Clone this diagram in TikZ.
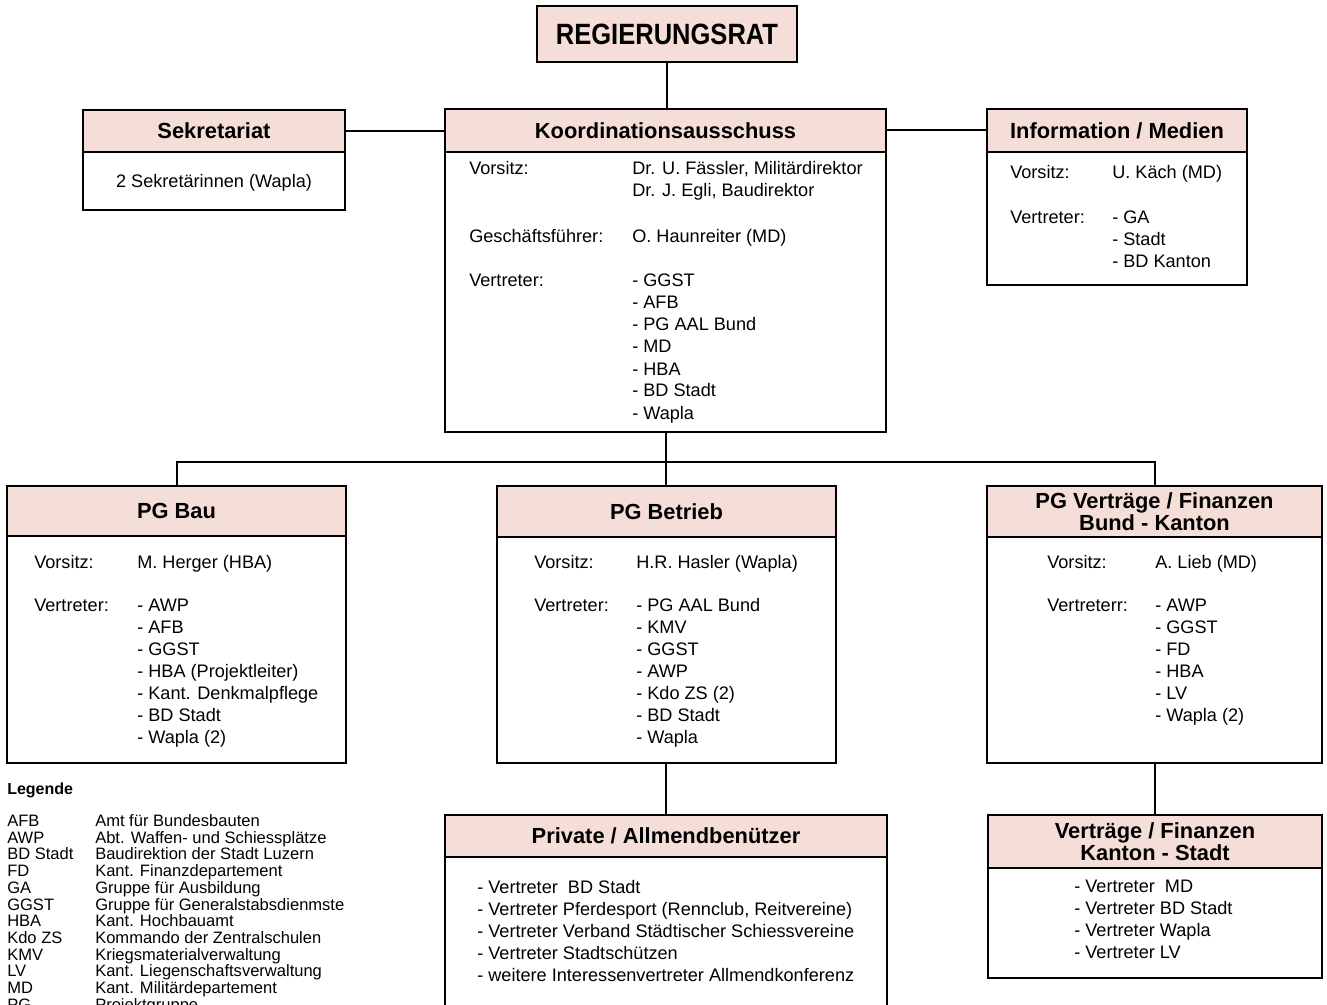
\documentclass[tikz,border=0pt]{standalone}
\usepackage{fontspec}
\setmainfont{Liberation Sans}
\usetikzlibrary{fit}
\definecolor{hdr}{RGB}{245,222,216}
\newcommand\obox[6]{%
  \node[hbox, fit={(#2,#3) (#4,#6)}] (#1-h) {};
  \node[box, fit={(#2,#3) (#4,#5)}] (#1) {};}
\newcommand\txtlines[4]{%
  \foreach [count=\i] \t in {#4} {\node[txt] (#1\i) at (#2,{#3+22*(\i-1)}) {\t};}}
\begin{document}
\begin{tikzpicture}[x=0.75pt,y=-0.75pt,
  box/.style={draw, line width=1.6pt, inner sep=0pt},
  hbox/.style={draw, fill=hdr, line width=1.6pt, inner sep=0pt},
  conn/.style={line width=1.5pt},
  txt/.style={inner sep=0pt, anchor=base west, font=\fontsize{13.6}{16}\selectfont},
  ctxt/.style={inner sep=0pt, font=\fontsize{13.6}{16}\selectfont},
  htxt/.style={inner sep=0pt, align=center, font=\bfseries\fontsize{16.4}{16.5}\selectfont},
  leg/.style={inner sep=0pt, anchor=base west, font=\fontsize{12.4}{12.5}\selectfont}]
\path[use as bounding box] (0,0) rectangle (1327,1005);
\clip (0,0) rectangle (1327,1005);
\fill[white] (0,0) rectangle (1327,1005);

% boxes
\node[hbox, fit={(537,6) (797,62)}] (rr) {};
\node[inner sep=0pt, font=\bfseries\fontsize{22}{22}\selectfont] (rrt) at (rr.center) {\scalebox{0.87}[1]{REGIERUNGSRAT}};
\obox{sek}{83}{110}{345}{210}{152}
\obox{ka}{445}{109}{886}{432}{152}
\obox{info}{987}{109}{1247}{285}{152}
\obox{bau}{7}{486}{346}{763}{536}
\obox{bet}{497}{486}{836}{763}{537}
\obox{pgv}{987}{486}{1322}{763}{537}
\obox{priv}{445}{815}{887}{1014}{857}
\obox{vf}{988}{815}{1322}{978}{868}

% connectors
\coordinate (bus) at (666,462);
\draw[conn] (rr.south) -- (rr.south |- ka.north);
\draw[conn] (sek-h.east) -- (sek-h.east -| ka.west);
\draw[conn] (info-h.west -| ka.east) -- (info-h.west);
\draw[conn] (ka.south -| bus) -- (bus);
\draw[conn] (bau.north) |- (bus) -| (pgv.north);
\draw[conn] (bus) -- (bus |- bet.north);
\draw[conn] (bus |- bet.south) -- (bus |- priv.north);
\draw[conn] (pgv.south) -- (pgv.south |- vf.north);

% headers
\node[htxt] (sekt) at (sek-h.center) {Sekretariat};
\node[htxt] (kat) at (ka-h.center) {Koordinationsausschuss};
\node[htxt] (infot) at (info-h.center) {Information / Medien};
\node[htxt] (baut) at (bau-h.center) {PG Bau};
\node[htxt] (bett) at (bet-h.center) {PG Betrieb};
\node[htxt] (pgvt) at (pgv-h.center) {PG Verträge / Finanzen\\Bund - Kanton};
\node[htxt] (privt) at (priv-h.center) {Private / Allmendbenützer};
\node[htxt] (vft) at (vf-h.center) {Verträge / Finanzen\\Kanton - Stadt};

% Sekretariat
\node[ctxt] (sekb) at (214,183) {2 Sekretärinnen (Wapla)};

% Koordinationsausschuss
\node[txt] (kav) at (469,175) {Vorsitz:};
\txtlines{kavn}{632}{175}{{Dr. U. Fässler, Militärdirektor},{Dr. J. Egli, Baudirektor}}
\node[txt] (kag) at (469,243) {Geschäftsführer:};
\node[txt] (kagn) at (632,243) {O. Haunreiter (MD)};
\node[txt] (kar) at (469,287) {Vertreter:};
\txtlines{karn}{632}{287}{- GGST,- AFB,- PG AAL Bund,- MD,- HBA,- BD Stadt,- Wapla}

% Information / Medien
\node[txt] (infov) at (1010,179) {Vorsitz:};
\node[txt] (infovn) at (1112,179) {U. Käch (MD)};
\node[txt] (infor) at (1010,224) {Vertreter:};
\txtlines{inforn}{1112}{224}{- GA,- Stadt,- BD Kanton}

% PG Bau
\node[txt] (bauv) at (34,568) {Vorsitz:};
\node[txt] (bauvn) at (137,568) {M. Herger (HBA)};
\node[txt] (baur) at (34,611) {Vertreter:};
\txtlines{baurn}{137}{611}{- AWP,- AFB,- GGST,- HBA (Projektleiter),- Kant. Denkmalpflege,- BD Stadt,- Wapla (2)}

% PG Betrieb
\node[txt] (betv) at (534,568) {Vorsitz:};
\node[txt] (betvn) at (636,568) {H.R. Hasler (Wapla)};
\node[txt] (betr) at (534,611) {Vertreter:};
\txtlines{betrn}{636}{611}{- PG AAL Bund,- KMV,- GGST,- AWP,- Kdo ZS (2),- BD Stadt,- Wapla}

% PG Vertraege
\node[txt] (pgvv) at (1047,568) {Vorsitz:};
\node[txt] (pgvvn) at (1155,568) {A. Lieb (MD)};
\node[txt] (pgvr) at (1047,611) {Vertreterr:};
\txtlines{pgvrn}{1155}{611}{- AWP,- GGST,- FD,- HBA,- LV,- Wapla (2)}

% Private
\txtlines{privl}{477}{893}{- Vertreter\ \ BD Stadt,{- Vertreter Pferdesport (Rennclub, Reitvereine)},- Vertreter Verband Städtischer Schiessvereine,- Vertreter Stadtschützen,- weitere Interessenvertreter Allmendkonferenz}

% Vertraege / Finanzen
\txtlines{vfl}{1074}{892}{- Vertreter\ \ MD,- Vertreter BD Stadt,- Vertreter Wapla,- Vertreter LV}

% Legende
\node[leg, font=\bfseries\fontsize{12}{12.5}\selectfont] (legt) at (7,794) {Legende};
\foreach [count=\i] \a/\d in {AFB/Amt für Bundesbauten,AWP/Abt. Waffen- und Schiessplätze,BD Stadt/Baudirektion der Stadt Luzern,FD/Kant. Finanzdepartement,GA/Gruppe für Ausbildung,GGST/Gruppe für Generalstabsdienmste,HBA/Kant. Hochbauamt,Kdo ZS/Kommando der Zentralschulen,KMV/Kriegsmaterialverwaltung,LV/Kant. Liegenschaftsverwaltung,MD/Kant. Militärdepartement,PG/Projektgruppe} {
  \node[leg] (la\i) at (7,{826.5+16.7*(\i-1)}) {\a};
  \node[leg] (ld\i) at (95,{826.5+16.7*(\i-1)}) {\d};
}
\end{tikzpicture}
\end{document}
